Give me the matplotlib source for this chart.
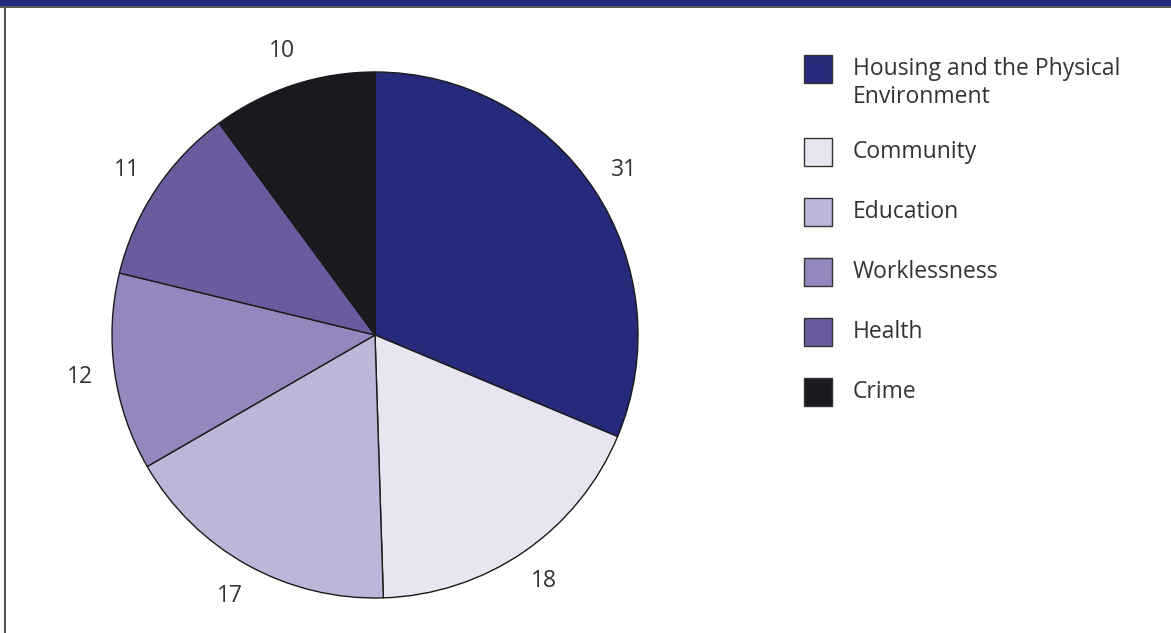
import matplotlib
matplotlib.use("Agg")
import matplotlib.pyplot as plt
from matplotlib.patches import Rectangle
from matplotlib.lines import Line2D

plt.rcParams["font.family"] = ["Open Sans", "DejaVu Sans"]

categories = [
    "Housing and the Physical\nEnvironment",
    "Community",
    "Education",
    "Worklessness",
    "Health",
    "Crime",
]
values = [31, 18, 17, 12, 11, 10]
colors = ["#262A7B", "#E8E5F1", "#BDB6D9", "#9487BD", "#6A5B9F", "#1B191F"]

W, H = 1171, 633
TEXT_COLOR = "#333333"
FONT_SIZE = 16.5


def fx(x):
    return x / W


def fy(y):
    return 1 - y / H


fig = plt.figure(figsize=(W / 100, H / 100), dpi=100)
fig.patch.set_facecolor("white")

# header band and frame
fig.add_artist(Rectangle((0, fy(6)), 1, 6 / H, transform=fig.transFigure,
                         facecolor="#262A7B", edgecolor="none"))
fig.add_artist(Line2D([0, 1], [fy(6.5), fy(6.5)], transform=fig.transFigure,
                      color="#3a3a3a", linewidth=1.2))
fig.add_artist(Line2D([fx(5.5), fx(5.5)], [0, fy(6.5)], transform=fig.transFigure,
                      color="#555555", linewidth=1.5))

# pie, centred at (375, 335) px with radius 263 px
cx, cy, R = 375, 335, 263
half = 300
ax = fig.add_axes([fx(cx - half), fy(cy + half), 2 * half / W, 2 * half / H])
wedges, texts = ax.pie(
    values,
    labels=[str(v) for v in values],
    colors=colors,
    startangle=90,
    counterclock=False,
    labeldistance=1.135,
    wedgeprops=dict(edgecolor="#1a1a1a", linewidth=1.0),
    textprops=dict(fontsize=FONT_SIZE, color=TEXT_COLOR),
)
for t in texts:
    t.set_ha("center")
    t.set_va("center")
lim = half / R
ax.set_xlim(-lim, lim)
ax.set_ylim(-lim, lim)
ax.set_aspect("equal")
ax.axis("off")

# legend: swatch + label rows
sq = 28
x_sq, x_txt = 804, 853
line_pitch = 28
y_top = 55
for name, col in zip(categories, colors):
    lines = name.split("\n")
    yc = y_top + sq / 2
    fig.add_artist(Rectangle((fx(x_sq), fy(y_top + sq)), sq / W, sq / H,
                             transform=fig.transFigure, facecolor=col,
                             edgecolor="#333333", linewidth=1.0))
    for k, ln in enumerate(lines):
        fig.text(fx(x_txt), fy(yc + k * line_pitch), ln, ha="left", va="center",
                 fontsize=FONT_SIZE, color=TEXT_COLOR)
    y_top += 60 + (len(lines) - 1) * 23

fig.savefig("out.png", dpi=100)
